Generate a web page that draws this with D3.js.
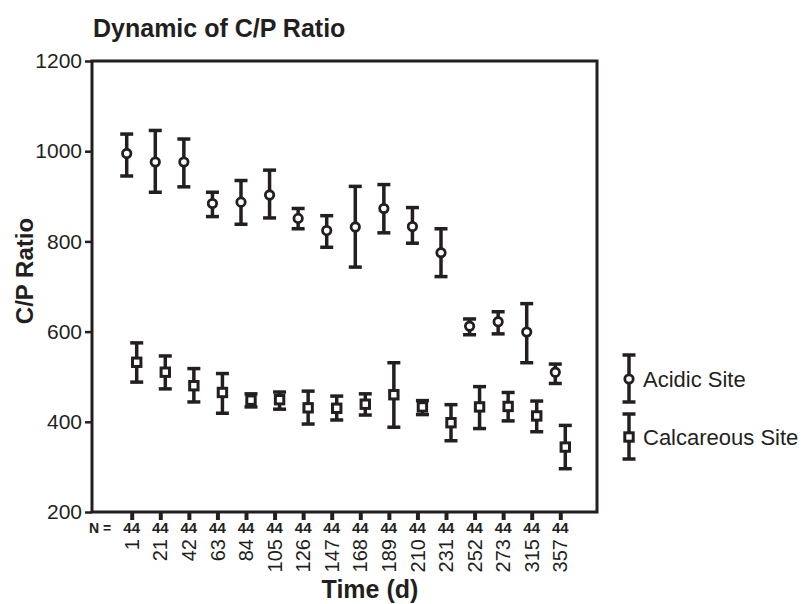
<!DOCTYPE html>
<html>
<head>
<meta charset="utf-8">
<script src="https://cdn.jsdelivr.net/npm/d3@7"></script>
<style>
  body { margin: 0; background: #fff; }
  svg { display: block; font-family: "Liberation Sans", Arial, sans-serif; }
</style>
</head>
<body>
<svg width="803" height="604"></svg>
<script>
// time points (days) and sample sizes
const times = ["1", "21", "42", "63", "84", "105", "126", "147", "168", "189", "210", "231", "252", "273", "315", "357"];
const counts = [44, 44, 44, 44, 44, 44, 44, 44, 44, 44, 44, 44, 44, 44, 44, 44];

// Acidic site: mean and error bar ends
const acidicMean = [995, 976, 976, 884, 887, 903, 851, 824, 832, 873, 833, 775, 612, 622, 599, 510];
const acidicHigh = [1038, 1046, 1027, 909, 935, 958, 873, 857, 922, 926, 875, 828, 628, 644, 662, 528];
const acidicLow = [945, 909, 921, 855, 838, 852, 828, 787, 743, 819, 796, 722, 593, 595, 531, 485];

// Calcareous site
const calcMean = [532, 510, 480, 465, 448, 449, 431, 430, 439, 460, 433, 398, 433, 434, 413, 344];
const calcHigh = [575, 546, 518, 507, 462, 466, 468, 457, 462, 531, 447, 438, 478, 465, 446, 392];
const calcLow = [488, 473, 444, 419, 433, 428, 395, 404, 415, 388, 416, 358, 385, 402, 378, 296];

const series = ["Acidic Site", "Calcareous Site"];
const yTicks = [200, 400, 600, 800, 1000, 1200];

const ink = "#231f20";
const svg = d3.select("svg");
const plot = { left: 92, right: 597, top: 61, bottom: 512 };

const xScale = d3.scalePoint().domain(times).range([94, 598]).padding(1.32);
const offset = d3.scalePoint().domain(series).range([-5, 5]);
const yScale = d3.scaleLinear().domain([200, 1200]).range([plot.bottom, plot.top]);

// title
svg.append("text")
  .attr("x", 93).attr("y", 37)
  .attr("font-size", 25).attr("font-weight", "bold").attr("fill", ink)
  .text("Dynamic of C/P Ratio");

// y axis
const yAxis = d3.axisLeft(yScale).tickValues(yTicks).tickSize(7).tickPadding(3)
  .tickFormat(d3.format("d"));
const gy = svg.append("g")
  .attr("transform", "translate(" + plot.left + ",0)")
  .call(yAxis);
gy.select(".domain").remove();
gy.selectAll(".tick line").attr("stroke", ink).attr("stroke-width", 2.5);
gy.selectAll(".tick text").attr("font-size", 21).attr("fill", ink)
  .attr("font-family", "Liberation Sans, Arial, sans-serif");

// x axis ticks
const xAxis = d3.axisBottom(xScale).tickSize(8).tickFormat("");
const gx = svg.append("g")
  .attr("transform", "translate(0," + plot.bottom + ")")
  .call(xAxis);
gx.select(".domain").remove();
gx.selectAll(".tick line").attr("stroke", ink).attr("stroke-width", 4);

// frame
svg.append("rect")
  .attr("x", plot.left).attr("y", plot.top)
  .attr("width", plot.right - plot.left).attr("height", plot.bottom - plot.top)
  .attr("fill", "none").attr("stroke", ink).attr("stroke-width", 3);

// N = row
svg.append("text")
  .attr("x", 89).attr("y", 533)
  .attr("font-size", 14).attr("font-weight", "bold").attr("fill", ink)
  .text("N =");
svg.selectAll(".ncount").data(counts).enter().append("text")
  .attr("class", "ncount")
  .attr("x", (d, i) => xScale(times[i]))
  .attr("y", 533)
  .attr("text-anchor", "middle")
  .attr("font-size", 15).attr("font-weight", "bold").attr("fill", ink)
  .text(d => d);

// rotated time labels
svg.selectAll(".tlabel").data(times).enter().append("text")
  .attr("class", "tlabel")
  .attr("transform", d => "translate(" + xScale(d) + ",539) rotate(-90)")
  .attr("dy", "0.36em")
  .attr("text-anchor", "end")
  .attr("font-size", 20).attr("fill", ink)
  .text(d => d);

svg.append("text")
  .attr("x", 370).attr("y", 598)
  .attr("text-anchor", "middle")
  .attr("font-size", 25).attr("font-weight", "bold").attr("fill", ink)
  .text("Time (d)");

svg.append("text")
  .attr("transform", "translate(33,271) rotate(-90)")
  .attr("text-anchor", "middle")
  .attr("font-size", 24).attr("font-weight", "bold").attr("fill", ink)
  .text("C/P Ratio");

// error bars + markers
const capW = 13;
const drawBar = (g, x, yHi, yLo) => {
  g.append("line").attr("x1", x).attr("x2", x).attr("y1", yHi).attr("y2", yLo)
    .attr("stroke", ink).attr("stroke-width", 3.5);
  [yHi, yLo].forEach(y => {
    g.append("line").attr("x1", x - capW / 2).attr("x2", x + capW / 2).attr("y1", y).attr("y2", y)
      .attr("stroke", ink).attr("stroke-width", 3.5);
  });
};
const drawMarker = (g, x, y, kind) => {
  if (kind === series[0]) {
    g.append("circle").attr("cx", x).attr("cy", y).attr("r", 4.2)
      .attr("fill", "#fff").attr("stroke", ink).attr("stroke-width", 2.8);
  } else {
    g.append("rect").attr("x", x - 4.2).attr("y", y - 4.2).attr("width", 8.4).attr("height", 8.4)
      .attr("fill", "#fff").attr("stroke", ink).attr("stroke-width", 3);
  }
};

const groups = [
  { name: series[0], mean: acidicMean, hi: acidicHigh, lo: acidicLow },
  { name: series[1], mean: calcMean, hi: calcHigh, lo: calcLow }
];

groups.forEach(s => {
  const g = svg.append("g");
  times.forEach((t, i) => {
    const x = xScale(t) + offset(s.name);
    drawBar(g, x, yScale(s.hi[i]), yScale(s.lo[i]));
    drawMarker(g, x, yScale(s.mean[i]), s.name);
  });
});

// legend
const legend = svg.append("g");
const legendRows = [
  { name: series[0], top: 355, mid: 379, bottom: 402 },
  { name: series[1], top: 414, mid: 437, bottom: 459 }
];
legendRows.forEach(r => {
  drawBar(legend, 629, r.top, r.bottom);
  drawMarker(legend, 629, r.mid, r.name);
  legend.append("text")
    .attr("x", 643).attr("y", r.mid).attr("dy", "0.36em")
    .attr("font-size", 22).attr("fill", ink)
    .text(r.name);
});
</script>
</body>
</html>
